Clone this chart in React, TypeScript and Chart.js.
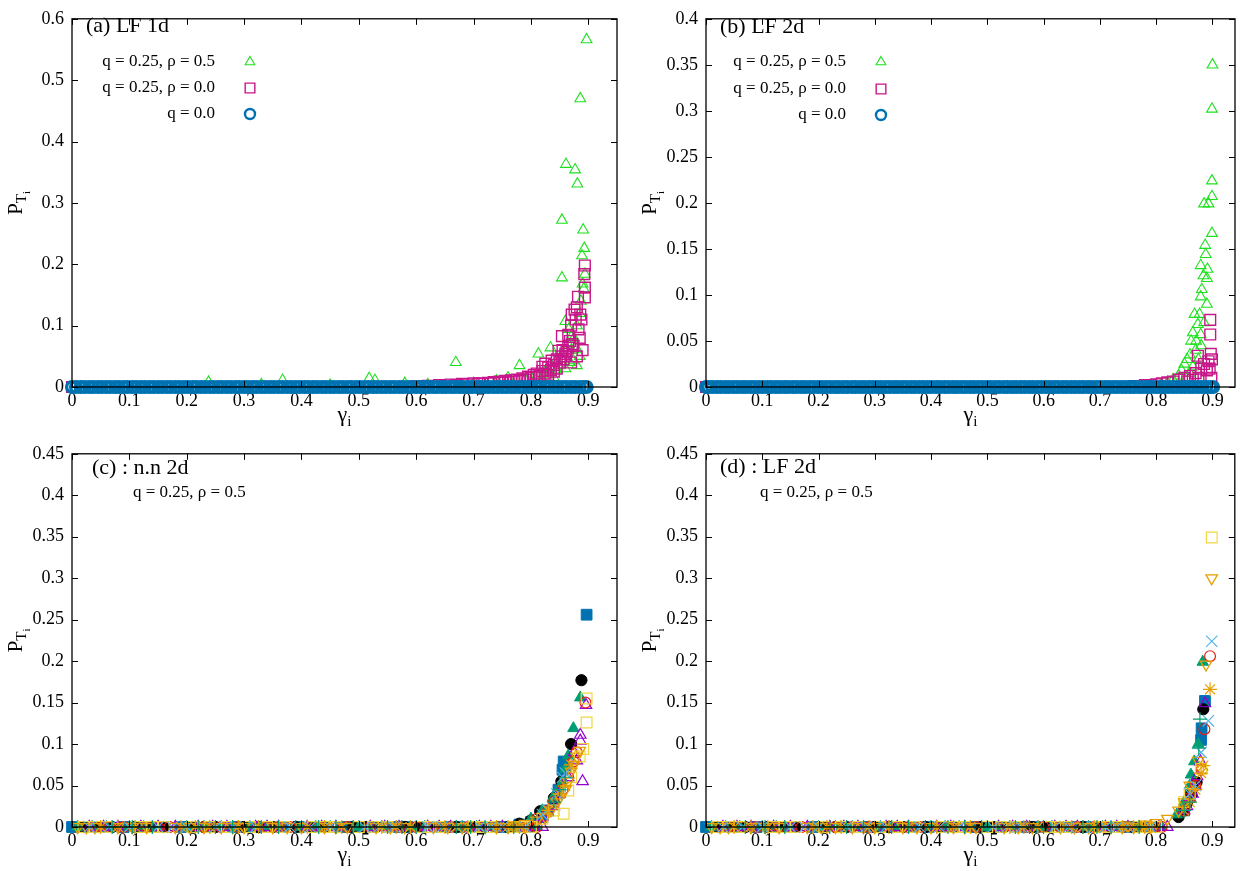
import React, { useEffect, useRef } from 'react';
import { Chart, registerables } from 'chart.js';
import { drawPoint } from 'chart.js/helpers';

Chart.register(...registerables);

const SERIF = '"Liberation Serif", "DejaVu Serif", serif';

// ---------- tick values ----------
const X_TICKS = [0, 0.1, 0.2, 0.3, 0.4, 0.5, 0.6, 0.7, 0.8, 0.9];
const Y_TICKS_A = [0, 0.1, 0.2, 0.3, 0.4, 0.5, 0.6];
const Y_TICKS_B = [0, 0.05, 0.1, 0.15, 0.2, 0.25, 0.3, 0.35, 0.4];
const Y_TICKS_CD = [0, 0.05, 0.1, 0.15, 0.2, 0.25, 0.3, 0.35, 0.4, 0.45];

// ---------- texts ----------
const LEGEND_LABELS = ['q = 0.25, ρ = 0.5', 'q = 0.25, ρ = 0.0', 'q = 0.0'];
const PANEL_LABELS = ['(a) LF 1d', '(b) LF 2d', '(c) : n.n 2d', '(d) : LF 2d'];
const PARAM_LABEL = 'q = 0.25, ρ = 0.5';

// ---------- panel (a) LF 1d ----------
const A_Q0_GAMMA = [0, 0.007, 0.015, 0.022, 0.03, 0.037, 0.045, 0.052, 0.06, 0.067, 0.075, 0.082, 0.09, 0.097, 0.105, 0.112, 0.12, 0.127, 0.135, 0.142, 0.15, 0.157, 0.165, 0.172, 0.18, 0.187, 0.195, 0.202, 0.21, 0.217, 0.225, 0.232, 0.24, 0.247, 0.255, 0.262, 0.27, 0.277, 0.285, 0.292, 0.3, 0.307, 0.315, 0.322, 0.33, 0.337, 0.345, 0.352, 0.36, 0.367, 0.375, 0.382, 0.39, 0.397, 0.405, 0.412, 0.42, 0.427, 0.435, 0.442, 0.45, 0.457, 0.465, 0.472, 0.48, 0.487, 0.495, 0.502, 0.51, 0.517, 0.525, 0.532, 0.54, 0.547, 0.555, 0.562, 0.57, 0.577, 0.585, 0.592, 0.6, 0.607, 0.615, 0.622, 0.63, 0.637, 0.645, 0.652, 0.66, 0.667, 0.675, 0.682, 0.69, 0.697, 0.705, 0.712, 0.72, 0.727, 0.735, 0.742, 0.75, 0.757, 0.765, 0.772, 0.78, 0.787, 0.795, 0.802, 0.81, 0.817, 0.825, 0.832, 0.84, 0.847, 0.855, 0.862, 0.87, 0.877, 0.885, 0.892, 0.897];
const A_R00_ZERO = [0, 0.04, 0.11, 0.19, 0.27, 0.35, 0.43, 0.5, 0.56];
const A_R00_TAIL = [
  [0.894, 0.198], [0.893, 0.184], [0.894, 0.162], [0.894, 0.146], [0.882, 0.147], [0.88, 0.13],
  [0.876, 0.126], [0.871, 0.118], [0.886, 0.118], [0.888, 0.11], [0.878, 0.11], [0.87, 0.1],
  [0.883, 0.094], [0.854, 0.083], [0.865, 0.085], [0.885, 0.08], [0.868, 0.075], [0.872, 0.07],
  [0.874, 0.067], [0.865, 0.064], [0.89, 0.06], [0.848, 0.059], [0.855, 0.06], [0.862, 0.058],
  [0.86, 0.054], [0.88, 0.05], [0.86, 0.05], [0.853, 0.05], [0.857, 0.045], [0.845, 0.045],
  [0.836, 0.043], [0.87, 0.04], [0.85, 0.04], [0.825, 0.038], [0.84, 0.036], [0.82, 0.033],
  [0.83, 0.032], [0.845, 0.03], [0.835, 0.028], [0.82, 0.026], [0.84, 0.025], [0.825, 0.022],
  [0.81, 0.022], [0.83, 0.02], [0.805, 0.02], [0.815, 0.018], [0.795, 0.017], [0.81, 0.016],
  [0.8, 0.015], [0.785, 0.014], [0.79, 0.012], [0.775, 0.012], [0.765, 0.011], [0.78, 0.01],
  [0.755, 0.01], [0.77, 0.009], [0.745, 0.009], [0.76, 0.008], [0.735, 0.008], [0.75, 0.007],
  [0.725, 0.007], [0.73, 0.006], [0.715, 0.006], [0.7, 0.006], [0.71, 0.005], [0.68, 0.005],
  [0.69, 0.004], [0.66, 0.004], [0.67, 0.003], [0.64, 0.003], [0.65, 0.002], [0.62, 0.002], [0.6, 0.001],
];
const A_R05_LOW = [
  [0.238, 0.008], [0.33, 0.004], [0.367, 0.011], [0.45, 0.003], [0.518, 0.014], [0.528, 0.011],
  [0.58, 0.006], [0.62, 0.004], [0.669, 0.04], [0.7, 0.006], [0.74, 0.01], [0.76, 0.015],
];
const A_R05_TAIL = [
  [0.897, 0.566], [0.886, 0.47], [0.861, 0.363], [0.877, 0.354], [0.881, 0.331], [0.854, 0.272],
  [0.891, 0.256], [0.893, 0.226], [0.889, 0.214], [0.894, 0.184], [0.854, 0.178], [0.89, 0.168],
  [0.892, 0.16], [0.887, 0.14], [0.885, 0.12], [0.86, 0.107], [0.88, 0.1], [0.866, 0.094],
  [0.871, 0.083], [0.875, 0.08], [0.865, 0.07], [0.834, 0.064], [0.88, 0.062], [0.87, 0.06],
  [0.855, 0.055], [0.813, 0.054], [0.885, 0.05], [0.845, 0.045], [0.874, 0.043], [0.868, 0.04],
  [0.85, 0.035], [0.78, 0.035], [0.88, 0.035], [0.86, 0.03], [0.835, 0.03], [0.845, 0.028],
  [0.825, 0.025], [0.83, 0.02], [0.815, 0.02], [0.84, 0.015], [0.805, 0.015], [0.82, 0.012],
  [0.79, 0.012], [0.8, 0.01],
];

// ---------- panel (b) LF 2d ----------
const B_Q0_GAMMA = [0, 0.004, 0.011, 0.019, 0.026, 0.034, 0.041, 0.049, 0.056, 0.064, 0.071, 0.079, 0.086, 0.094, 0.101, 0.109, 0.116, 0.124, 0.131, 0.139, 0.146, 0.154, 0.161, 0.169, 0.176, 0.184, 0.191, 0.199, 0.206, 0.214, 0.221, 0.229, 0.236, 0.244, 0.251, 0.259, 0.266, 0.274, 0.281, 0.289, 0.296, 0.304, 0.311, 0.319, 0.326, 0.334, 0.341, 0.349, 0.356, 0.364, 0.371, 0.379, 0.386, 0.394, 0.401, 0.409, 0.416, 0.424, 0.431, 0.439, 0.446, 0.454, 0.461, 0.469, 0.476, 0.484, 0.491, 0.499, 0.506, 0.514, 0.521, 0.529, 0.536, 0.544, 0.551, 0.559, 0.566, 0.574, 0.581, 0.589, 0.596, 0.604, 0.611, 0.619, 0.626, 0.634, 0.641, 0.649, 0.656, 0.664, 0.671, 0.679, 0.686, 0.694, 0.701, 0.709, 0.716, 0.724, 0.731, 0.739, 0.746, 0.754, 0.761, 0.769, 0.776, 0.784, 0.791, 0.799, 0.806, 0.814, 0.821, 0.829, 0.836, 0.844, 0.851, 0.859, 0.866, 0.874, 0.881, 0.889, 0.896, 0.901];
const B_R00_ZERO = [0, 0.1, 0.2, 0.3, 0.4, 0.5, 0.6, 0.7];
const B_R00_TAIL = [
  [0.896, 0.073], [0.896, 0.057], [0.897, 0.036], [0.874, 0.034], [0.899, 0.03], [0.893, 0.028],
  [0.885, 0.025], [0.88, 0.02], [0.895, 0.02], [0.89, 0.018], [0.87, 0.015], [0.86, 0.012],
  [0.85, 0.01], [0.875, 0.01], [0.898, 0.01], [0.84, 0.008], [0.865, 0.008], [0.83, 0.006],
  [0.855, 0.006], [0.82, 0.005], [0.81, 0.004], [0.8, 0.003], [0.79, 0.002], [0.78, 0.002], [0.76, 0.001],
];
const B_R05_TAIL = [
  [0.9, 0.35], [0.899, 0.302], [0.899, 0.224], [0.899, 0.207], [0.885, 0.199], [0.893, 0.199],
  [0.899, 0.167], [0.887, 0.154], [0.888, 0.144], [0.879, 0.132], [0.891, 0.128], [0.884, 0.121],
  [0.89, 0.118], [0.881, 0.106], [0.879, 0.098], [0.89, 0.09], [0.868, 0.079], [0.877, 0.079],
  [0.885, 0.07], [0.874, 0.068], [0.865, 0.059], [0.879, 0.057], [0.862, 0.05], [0.871, 0.05],
  [0.88, 0.045], [0.87, 0.04], [0.86, 0.035], [0.855, 0.03], [0.875, 0.03], [0.85, 0.025],
  [0.865, 0.022], [0.845, 0.018], [0.86, 0.015], [0.84, 0.012], [0.855, 0.01], [0.83, 0.008],
  [0.82, 0.005], [0.81, 0.003],
];

// ---------- baseline gamma samples for (c) and (d) (P ~ 0) ----------
const BASE_BSQ = [0.0, 0.025, 0.05, 0.09, 0.115, 0.14, 0.19, 0.21, 0.24, 0.28, 0.305, 0.33, 0.37, 0.395, 0.42, 0.47, 0.49, 0.51, 0.56, 0.585, 0.61, 0.65, 0.675, 0.7, 0.74, 0.76, 0.78];
const BASE_BCIRC = [0.02, 0.045, 0.07, 0.11, 0.135, 0.16, 0.21, 0.23, 0.25, 0.3, 0.325, 0.35, 0.39, 0.415, 0.44, 0.49, 0.51, 0.53, 0.58, 0.605, 0.63, 0.67, 0.695, 0.72, 0.76, 0.78, 0.8];
const BASE_GTRI = [0.01, 0.035, 0.06, 0.1, 0.125, 0.15, 0.2, 0.23, 0.26, 0.31, 0.325, 0.34, 0.4, 0.425, 0.45, 0.5, 0.52, 0.54, 0.59, 0.615, 0.64, 0.68, 0.705, 0.73, 0.77, 0.79, 0.81];
const BASE_PTRI = [0.03, 0.055, 0.08, 0.12, 0.15, 0.18, 0.22, 0.245, 0.27, 0.32, 0.34, 0.36, 0.41, 0.435, 0.46, 0.52, 0.545, 0.57, 0.62, 0.64, 0.66, 0.71, 0.73, 0.75, 0.79, 0.805, 0.82];
const BASE_RCIRC = [0.04, 0.065, 0.09, 0.13, 0.15, 0.17, 0.23, 0.26, 0.29, 0.34, 0.36, 0.38, 0.43, 0.455, 0.48, 0.52, 0.545, 0.57, 0.6, 0.63, 0.66, 0.69, 0.715, 0.74, 0.78, 0.795, 0.81];
const BASE_YSQ = [0.02, 0.04, 0.06, 0.12, 0.14, 0.16, 0.21, 0.24, 0.27, 0.31, 0.34, 0.37, 0.42, 0.44, 0.46, 0.5, 0.525, 0.55, 0.61, 0.625, 0.64, 0.7, 0.715, 0.73, 0.77, 0.785, 0.8];
const BASE_ODTRI = [0.01, 0.025, 0.04, 0.08, 0.105, 0.13, 0.18, 0.205, 0.23, 0.26, 0.28, 0.3, 0.35, 0.375, 0.4, 0.44, 0.46, 0.48, 0.53, 0.555, 0.58, 0.63, 0.655, 0.68, 0.72, 0.74, 0.76, 0.79];
const BASE_LX = [0.03, 0.065, 0.1, 0.15, 0.175, 0.2, 0.25, 0.285, 0.32, 0.38, 0.415, 0.45, 0.51, 0.535, 0.56, 0.62, 0.645, 0.67, 0.71, 0.73, 0.75, 0.79];
const BASE_OSTAR = [0.05, 0.08, 0.11, 0.19, 0.215, 0.24, 0.29, 0.325, 0.36, 0.41, 0.44, 0.47, 0.54, 0.565, 0.59, 0.65, 0.67, 0.69, 0.74, 0.76, 0.78];
const BASE_TPLUS = [0.07, 0.105, 0.14, 0.22, 0.25, 0.28, 0.33, 0.36, 0.39, 0.43, 0.46, 0.49, 0.55, 0.575, 0.6, 0.67, 0.695, 0.72, 0.77];

// ---------- panel (c) n.n 2d tails ----------
const C_BSQ = [[0.897, 0.256], [0.86, 0.072], [0.857, 0.079], [0.855, 0.069], [0.848, 0.045], [0.84, 0.03], [0.83, 0.02], [0.82, 0.012], [0.8, 0.006], [0.78, 0.003]];
const C_BCIRC = [[0.888, 0.177], [0.87, 0.1], [0.853, 0.055], [0.84, 0.035], [0.816, 0.019], [0.8, 0.008], [0.78, 0.004]];
const C_GTRI = [[0.886, 0.156], [0.874, 0.119], [0.865, 0.086], [0.86, 0.07], [0.853, 0.052], [0.838, 0.035], [0.82, 0.02], [0.8, 0.01]];
const C_PTRI = [[0.896, 0.147], [0.886, 0.111], [0.886, 0.104], [0.875, 0.09], [0.88, 0.08], [0.865, 0.06], [0.89, 0.055], [0.85, 0.04], [0.84, 0.025], [0.82, 0.012]];
const C_RCIRC = [[0.895, 0.15], [0.88, 0.09], [0.874, 0.079], [0.865, 0.06], [0.855, 0.045], [0.84, 0.03], [0.83, 0.02], [0.81, 0.01]];
const C_YSQ = [[0.897, 0.155], [0.897, 0.126], [0.891, 0.094], [0.885, 0.085], [0.87, 0.06], [0.865, 0.044], [0.84, 0.02], [0.857, 0.016], [0.82, 0.01]];
const C_ODTRI = [[0.885, 0.092], [0.88, 0.085], [0.875, 0.075], [0.87, 0.067], [0.865, 0.055], [0.86, 0.045], [0.85, 0.035], [0.845, 0.03], [0.835, 0.02], [0.825, 0.012], [0.81, 0.008], [0.79, 0.004], [0.77, 0.002]];
const C_LX = [[0.86, 0.065], [0.855, 0.06], [0.845, 0.04], [0.83, 0.02], [0.82, 0.015]];
const C_OSTAR = [[0.87, 0.075], [0.86, 0.05], [0.85, 0.04], [0.83, 0.02]];
const C_TPLUS = [[0.86, 0.06], [0.85, 0.045], [0.84, 0.03]];

// ---------- panel (d) LF 2d tails ----------
const D_BSQ = [[0.887, 0.152], [0.881, 0.119], [0.88, 0.105], [0.86, 0.04], [0.85, 0.02]];
const D_BCIRC = [[0.884, 0.142], [0.872, 0.054], [0.863, 0.039], [0.855, 0.029], [0.85, 0.02], [0.84, 0.012]];
const D_GTRI = [[0.883, 0.199], [0.875, 0.1], [0.868, 0.079], [0.862, 0.063], [0.86, 0.05], [0.85, 0.03], [0.837, 0.015]];
const D_PTRI = [[0.887, 0.149], [0.879, 0.079], [0.873, 0.061], [0.87, 0.05], [0.865, 0.04], [0.86, 0.035], [0.855, 0.025], [0.85, 0.02]];
const D_RCIRC = [[0.896, 0.206], [0.886, 0.118], [0.881, 0.069], [0.87, 0.05], [0.86, 0.035], [0.85, 0.02]];
const D_YSQ = [[0.899, 0.349], [0.88, 0.07], [0.86, 0.04], [0.85, 0.03]];
const D_ODTRI = [[0.899, 0.3], [0.889, 0.196], [0.875, 0.08], [0.86, 0.05], [0.85, 0.03], [0.84, 0.02], [0.82, 0.01], [0.8, 0.005], [0.78, 0.003], [0.75, 0.002], [0.7, 0.0015]];
const D_LX = [[0.899, 0.224], [0.893, 0.128], [0.88, 0.09], [0.87, 0.05], [0.86, 0.04]];
const D_OSTAR = [[0.896, 0.166], [0.884, 0.074], [0.88, 0.065], [0.87, 0.045], [0.86, 0.03], [0.85, 0.02]];
const D_TPLUS = [[0.878, 0.13], [0.876, 0.095], [0.86, 0.03], [0.85, 0.02]];

// ---------- marker styles ----------
type Sty = { shape: string; r: number; color: string; fill: boolean; bw: number; rot?: number };
const STY_TRI_GREEN: Sty = { shape: 'triangle', r: 6.2, color: '#1fe01f', fill: false, bw: 1.1 };
const STY_SQ_MAGENTA: Sty = { shape: 'rect', r: 7.6, color: '#c8168a', fill: false, bw: 1.4 };
const STY_CIRC_BLUE: Sty = { shape: 'circle', r: 5.4, color: '#0072b2', fill: false, bw: 3.4 };

const STY_BSQ: Sty = { shape: 'rect', r: 7.6, color: '#0072b2', fill: true, bw: 1 };
const STY_BCIRC: Sty = { shape: 'circle', r: 5.6, color: '#000000', fill: true, bw: 1 };
const STY_GTRI: Sty = { shape: 'triangle', r: 6.6, color: '#009e73', fill: true, bw: 1 };
const STY_PTRI: Sty = { shape: 'triangle', r: 6.6, color: '#9400d3', fill: false, bw: 1.2 };
const STY_RCIRC: Sty = { shape: 'circle', r: 5.4, color: '#e51e10', fill: false, bw: 1.2 };
const STY_YSQ: Sty = { shape: 'rect', r: 7.6, color: '#f0d840', fill: false, bw: 1.2 };
const STY_ODTRI: Sty = { shape: 'triangle', r: 6.6, color: '#e69f00', fill: false, bw: 1.3, rot: 180 };
const STY_LX: Sty = { shape: 'crossRot', r: 8, color: '#56b4e9', fill: false, bw: 1.2 };
const STY_OSTAR: Sty = { shape: 'star', r: 7, color: '#e69f00', fill: false, bw: 1.2 };
const STY_TPLUS: Sty = { shape: 'cross', r: 7, color: '#009e73', fill: false, bw: 1.2 };

const zeros = (g: number[]) => g.map((x) => ({ x, y: 0 }));
const xy = (p: number[][]) => p.map(([x, y]) => ({ x, y }));

function mk(label: string, s: Sty, data: { x: number; y: number }[]) {
  return {
    label,
    data,
    pointStyle: s.shape,
    pointRotation: s.rot || 0,
    pointRadius: s.r,
    pointBorderWidth: s.bw,
    borderWidth: s.bw,
    borderColor: s.color,
    backgroundColor: s.fill ? s.color : 'rgba(0,0,0,0)',
    pointBorderColor: s.color,
    pointBackgroundColor: s.fill ? s.color : 'rgba(0,0,0,0)',
    clip: false,
    showLine: false,
  };
}

type PanelCfg = {
  key: string;
  left: number;
  top: number;
  w: number;
  h: number;
  area: { l: number; t: number; r: number; b: number };
  xMax: number;
  yMax: number;
  yTicks: number[];
  datasets: any[];
  label: string;
  labelPos: [number, number];
  sub?: string;
  subPos?: [number, number];
  legend?: { styles: Sty[]; textX: number; markX: number; ys: number[] };
  yTitleX: number;
};

const fmt = (v: number) => String(Math.round(v * 100) / 100);

const PANELS: PanelCfg[] = [
  {
    key: 'a', left: 0, top: 0, w: 630, h: 435,
    area: { l: 72, t: 12, r: 617, b: 387 }, xMax: 0.95, yMax: 0.6, yTicks: Y_TICKS_A,
    datasets: [
      mk(LEGEND_LABELS[2], STY_CIRC_BLUE, zeros(A_Q0_GAMMA)),
      mk(LEGEND_LABELS[1], STY_SQ_MAGENTA, [...zeros(A_R00_ZERO), ...xy(A_R00_TAIL)]),
      mk(LEGEND_LABELS[0], STY_TRI_GREEN, [...xy(A_R05_LOW), ...xy(A_R05_TAIL)]),
    ],
    label: PANEL_LABELS[0], labelPos: [86, 26],
    legend: { styles: [STY_TRI_GREEN, STY_SQ_MAGENTA, STY_CIRC_BLUE], textX: 215, markX: 250, ys: [62, 88, 114] },
    yTitleX: 22,
  },
  {
    key: 'b', left: 630, top: 0, w: 614, h: 435,
    area: { l: 76, t: 12, r: 608, b: 387 }, xMax: 0.94, yMax: 0.4, yTicks: Y_TICKS_B,
    datasets: [
      mk(LEGEND_LABELS[2], STY_CIRC_BLUE, zeros(B_Q0_GAMMA)),
      mk(LEGEND_LABELS[1], STY_SQ_MAGENTA, [...zeros(B_R00_ZERO), ...xy(B_R00_TAIL)]),
      mk(LEGEND_LABELS[0], STY_TRI_GREEN, xy(B_R05_TAIL)),
    ],
    label: PANEL_LABELS[1], labelPos: [90, 27],
    legend: { styles: [STY_TRI_GREEN, STY_SQ_MAGENTA, STY_CIRC_BLUE], textX: 216, markX: 251, ys: [62, 89, 115] },
    yTitleX: 26,
  },
  {
    key: 'c', left: 0, top: 435, w: 630, h: 436,
    area: { l: 72, t: 15, r: 617, b: 392 }, xMax: 0.95, yMax: 0.45, yTicks: Y_TICKS_CD,
    datasets: [
      mk('plus', STY_TPLUS, [...zeros(BASE_TPLUS), ...xy(C_TPLUS)]),
      mk('star', STY_OSTAR, [...zeros(BASE_OSTAR), ...xy(C_OSTAR)]),
      mk('x', STY_LX, [...zeros(BASE_LX), ...xy(C_LX)]),
      mk('down', STY_ODTRI, [...zeros(BASE_ODTRI), ...xy(C_ODTRI)]),
      mk('ysq', STY_YSQ, [...zeros(BASE_YSQ), ...xy(C_YSQ)]),
      mk('rcirc', STY_RCIRC, [...zeros(BASE_RCIRC), ...xy(C_RCIRC)]),
      mk('ptri', STY_PTRI, [...zeros(BASE_PTRI), ...xy(C_PTRI)]),
      mk('gtri', STY_GTRI, [...zeros(BASE_GTRI), ...xy(C_GTRI)]),
      mk('bcirc', STY_BCIRC, [...zeros(BASE_BCIRC), ...xy(C_BCIRC)]),
      mk('bsq', STY_BSQ, [...zeros(BASE_BSQ), ...xy(C_BSQ)]),
    ],
    label: PANEL_LABELS[2], labelPos: [92, 33], sub: PARAM_LABEL, subPos: [133, 58],
    yTitleX: 22,
  },
  {
    key: 'd', left: 630, top: 435, w: 614, h: 436,
    area: { l: 76, t: 15, r: 608, b: 392 }, xMax: 0.94, yMax: 0.45, yTicks: Y_TICKS_CD,
    datasets: [
      mk('plus', STY_TPLUS, [...zeros(BASE_TPLUS), ...xy(D_TPLUS)]),
      mk('star', STY_OSTAR, [...zeros(BASE_OSTAR), ...xy(D_OSTAR)]),
      mk('x', STY_LX, [...zeros(BASE_LX), ...xy(D_LX)]),
      mk('down', STY_ODTRI, [...zeros(BASE_ODTRI), ...xy(D_ODTRI)]),
      mk('ysq', STY_YSQ, [...zeros(BASE_YSQ), ...xy(D_YSQ)]),
      mk('rcirc', STY_RCIRC, [...zeros(BASE_RCIRC), ...xy(D_RCIRC)]),
      mk('ptri', STY_PTRI, [...zeros(BASE_PTRI), ...xy(D_PTRI)]),
      mk('gtri', STY_GTRI, [...zeros(BASE_GTRI), ...xy(D_GTRI)]),
      mk('bcirc', STY_BCIRC, [...zeros(BASE_BCIRC), ...xy(D_BCIRC)]),
      mk('bsq', STY_BSQ, [...zeros(BASE_BSQ), ...xy(D_BSQ)]),
    ],
    label: PANEL_LABELS[3], labelPos: [90, 32], sub: PARAM_LABEL, subPos: [130, 58],
    yTitleX: 26,
  },
];

function decor(cfg: PanelCfg) {
  return {
    id: 'decor' + cfg.key,
    afterDraw(chart: any) {
      const { ctx, chartArea: a, scales } = chart;
      const xs = scales.x;
      const ys = scales.y;
      ctx.save();
      // frame
      ctx.strokeStyle = '#000';
      ctx.lineWidth = 1.3;
      ctx.strokeRect(a.left, a.top, a.right - a.left, a.bottom - a.top);
      // inward ticks on all four sides
      const T = 6;
      ctx.beginPath();
      xs.ticks.forEach((t: any) => {
        const px = Math.round(xs.getPixelForValue(t.value)) + 0.5;
        ctx.moveTo(px, a.bottom); ctx.lineTo(px, a.bottom - T);
        ctx.moveTo(px, a.top); ctx.lineTo(px, a.top + T);
      });
      ys.ticks.forEach((t: any) => {
        const py = Math.round(ys.getPixelForValue(t.value)) + 0.5;
        ctx.moveTo(a.left, py); ctx.lineTo(a.left + T, py);
        ctx.moveTo(a.right, py); ctx.lineTo(a.right - T, py);
      });
      ctx.lineWidth = 1;
      ctx.stroke();

      ctx.fillStyle = '#000';
      // x title: gamma_i
      const xb = a.bottom + 34;
      ctx.font = `22px ${SERIF}`;
      const gw = ctx.measureText('γ').width;
      ctx.font = `15px ${SERIF}`;
      const iw = ctx.measureText('i').width;
      const x0 = (a.left + a.right) / 2 - (gw + iw) / 2;
      ctx.textAlign = 'left';
      ctx.textBaseline = 'alphabetic';
      ctx.font = `22px ${SERIF}`;
      ctx.fillText('γ', x0, xb);
      ctx.font = `15px ${SERIF}`;
      ctx.fillText('i', x0 + gw, xb + 5);

      // y title: P_{T_i}, rotated
      ctx.save();
      ctx.translate(cfg.yTitleX, (a.top + a.bottom) / 2);
      ctx.rotate(-Math.PI / 2);
      ctx.font = `21px ${SERIF}`;
      const pw = ctx.measureText('P').width;
      ctx.font = `15px ${SERIF}`;
      const tw = ctx.measureText('T').width;
      ctx.font = `11px ${SERIF}`;
      const i2 = ctx.measureText('i').width;
      let s = -(pw + tw + i2) / 2;
      ctx.font = `21px ${SERIF}`;
      ctx.fillText('P', s, 0);
      s += pw;
      ctx.font = `15px ${SERIF}`;
      ctx.fillText('T', s, 4);
      s += tw;
      ctx.font = `11px ${SERIF}`;
      ctx.fillText('i', s, 8);
      ctx.restore();

      // panel label
      ctx.textBaseline = 'middle';
      ctx.textAlign = 'left';
      ctx.font = `22px ${SERIF}`;
      ctx.fillText(cfg.label, cfg.labelPos[0], cfg.labelPos[1]);
      if (cfg.sub && cfg.subPos) {
        ctx.font = `17px ${SERIF}`;
        ctx.fillText(cfg.sub, cfg.subPos[0], cfg.subPos[1]);
      }
      // legend
      if (cfg.legend) {
        const L = cfg.legend;
        ctx.font = `17px ${SERIF}`;
        ctx.textAlign = 'right';
        LEGEND_LABELS.forEach((txt, i) => {
          ctx.fillStyle = '#000';
          ctx.fillText(txt, L.textX, L.ys[i]);
          const st = L.styles[i];
          ctx.strokeStyle = st.color;
          ctx.fillStyle = st.fill ? st.color : 'rgba(0,0,0,0)';
          ctx.lineWidth = st.shape === 'circle' ? 2.4 : st.bw;
          drawPoint(ctx, { pointStyle: st.shape as any, rotation: st.rot || 0, radius: st.shape === 'circle' ? 5 : st.r * 0.9, borderWidth: st.bw }, L.markX, L.ys[i]);
        });
      }
      ctx.restore();
    },
  };
}

function PanelChart({ cfg }: { cfg: PanelCfg }) {
  const ref = useRef<HTMLCanvasElement>(null);
  useEffect(() => {
    const a = cfg.area;
    const chart = new Chart(ref.current as HTMLCanvasElement, {
      type: 'scatter',
      data: { datasets: cfg.datasets as any },
      options: {
        responsive: false,
        maintainAspectRatio: false,
        animation: false,
        devicePixelRatio: 1,
        events: [],
        layout: { padding: { left: 0, top: a.t, right: cfg.w - a.r, bottom: 0 } },
        plugins: { legend: { display: false }, tooltip: { enabled: false } },
        scales: {
          x: {
            type: 'linear',
            min: 0,
            max: cfg.xMax,
            afterBuildTicks: (s: any) => { s.ticks = X_TICKS.map((v) => ({ value: v })); },
            afterFit: (s: any) => { s.height = cfg.h - a.b; },
            grid: { display: false, drawTicks: false },
            border: { display: false },
            ticks: {
              color: '#000', padding: 3, maxRotation: 0, autoSkip: false,
              font: { family: SERIF, size: 18 },
              callback: (v: any) => fmt(Number(v)),
            },
          },
          y: {
            type: 'linear',
            min: 0,
            max: cfg.yMax,
            afterBuildTicks: (s: any) => { s.ticks = cfg.yTicks.map((v) => ({ value: v })); },
            afterFit: (s: any) => { s.width = a.l; },
            grid: { display: false, drawTicks: false },
            border: { display: false },
            ticks: {
              color: '#000', padding: 8, autoSkip: false,
              font: { family: SERIF, size: 18 },
              callback: (v: any) => fmt(Number(v)),
            },
          },
        },
      } as any,
      plugins: [decor(cfg)],
    });
    return () => chart.destroy();
  }, [cfg]);
  return (
    <canvas
      ref={ref}
      width={cfg.w}
      height={cfg.h}
      style={{ position: 'absolute', left: cfg.left, top: cfg.top, width: cfg.w, height: cfg.h, display: 'block' }}
    />
  );
}

export default function App() {
  return (
    <div style={{ position: 'absolute', left: 0, top: 0, width: 1244, height: 871, background: '#fff', overflow: 'hidden' }}>
      {PANELS.map((p) => (
        <PanelChart key={p.key} cfg={p} />
      ))}
    </div>
  );
}
